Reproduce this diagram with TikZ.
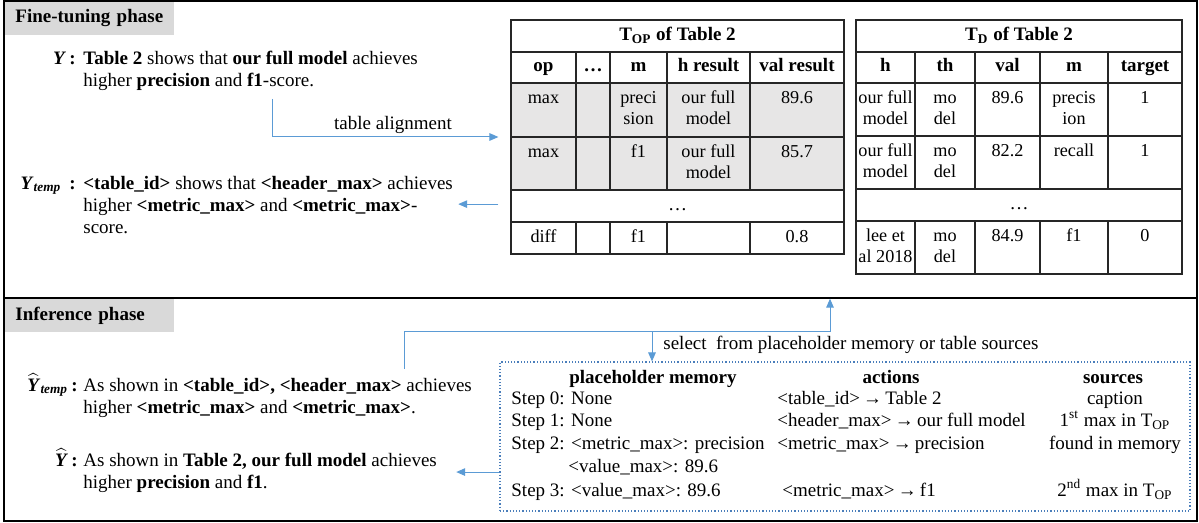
\documentclass[tikz,border=0pt]{standalone}
\usepackage{fontspec}
\setmainfont{Liberation Serif}
\usepackage{amsmath}
\usetikzlibrary{arrows.meta, positioning, fit, calc}

\definecolor{phasegray}{HTML}{D9D9D9}
\definecolor{rowgray}{HTML}{E7E6E6}
\definecolor{linkblue}{HTML}{5B9BD5}
\definecolor{memblue}{HTML}{4A7EBB}

\begin{document}
\begin{tikzpicture}[x=0.5pt, y=-0.5pt,
    every node/.style={font=\fontsize{9.5}{11}\selectfont},
    txt/.style={inner sep=0pt, align=left, anchor=north west},
    lbl/.style={inner sep=0pt, text height=6.5pt, text depth=2pt, anchor=east},
    mem/.style={inner sep=0pt, text height=6.5pt, text depth=2pt},
    cell/.style={inner sep=0pt, align=center, anchor=north, font=\fontsize{9.1}{10.5}\selectfont},
    cellhead/.style={mem, font=\fontsize{9.5}{11}\selectfont\bfseries},
    frame/.style={draw, line width=0.7pt, inner sep=0pt},
    tbl/.style={draw=black!85, line width=0.6pt, inner sep=0pt},
    tblline/.style={draw=black!85, line width=0.6pt},
    phase/.style={fill=phasegray, inner xsep=5.5pt, inner ysep=0pt, minimum height=17pt, text width=74pt, align=left, anchor=north west, font=\fontsize{9.5}{11}\selectfont\bfseries},
    link/.style={draw=linkblue, line width=0.5pt, -{Triangle[length=4.5pt, width=3.8pt]}}]
    \useasboundingbox (0,0) rectangle (1199,523);

    % phase labels and frames
    \node[phase] (ftlab) at (4,1) {Fine-tuning phase};
    \node[phase] (inflab) at (4,298) {Inference phase};
    \node[frame, fit={(4,1) (1197,298)}] (ftbox) {};
    \node[frame, fit={(4,298) (1197,521)}] (infbox) {};

    % fine-tuning sentences
    \node[lbl] (ylab) at (76,60) {\textbf{\textit{Y}}\,\textbf{:}};
    \node[txt] (ytext) at (83,48.9) {\strut\textbf{Table 2} shows that \textbf{our full model} achieves\\higher \textbf{precision} and \textbf{f1}-score.};
    \node[lbl] (ytemplab) at (76,185) {\textbf{\textit{Y}}\textsubscript{\textbf{\textit{temp}}}\hspace{4pt}\textbf{:}};
    \node[txt] (ytemptext) at (83,173.9) {\strut\textbf{<table\_id>} shows that \textbf{<header\_max>} achieves\\higher \textbf{<metric\_max>} and \textbf{<metric\_max>}-\\score.};

    % T_OP table
    \fill[rowgray] (511,83) rectangle (844,190);
    \foreach \y in {52,83,137,190,222} \draw[tblline] (511,\y) -- (844,\y);
    \foreach \x in {576,610,667,750} \draw[tblline] (\x,52) -- (\x,190) (\x,222) -- (\x,254);
    \node[tbl, fit={(511,20) (844,254)}] (topframe) {};
    \node[cellhead] (optitle) at (677.5,36) {T\textsubscript{OP} of Table 2};
    \foreach \x/\t [count=\i] in {543.5/op, 593/\dots, 638.5/m, 708.5/h result, 797/val result}
        \node[cellhead] (oph\i) at (\x,67.5) {\t};
    \foreach \x/\t [count=\i] in {543.5/max, 638.5/preci\\sion, 708.5/our full\\model, 797/89.6}
        \node[cell] (opa\i) at (\x,88.6) {\strut\t};
    \foreach \x/\t [count=\i] in {543.5/max, 638.5/f1, 708.5/our full\\model, 797/85.7}
        \node[cell] (opb\i) at (\x,142.6) {\strut\t};
    \node[mem] (opdots) at (677.5,206) {\dots};
    \foreach \x/\t [count=\i] in {543.5/diff, 638.5/f1, 797/0.8}
        \node[cell] (opc\i) at (\x,227.6) {\strut\t};

    % T_D table
    \foreach \y in {52,83,136,189,221} \draw[tblline] (856,\y) -- (1182,\y);
    \foreach \x in {915,975,1040,1108} \draw[tblline] (\x,52) -- (\x,189) (\x,221) -- (\x,274);
    \node[tbl, fit={(856,20) (1182,274)}] (tdframe) {};
    \node[cellhead] (tdtitle) at (1019,36) {T\textsubscript{D} of Table 2};
    \foreach \x/\t [count=\i] in {885.5/h, 945/th, 1007.5/val, 1074/m, 1145/target}
        \node[cellhead] (tdh\i) at (\x,67.5) {\t};
    \foreach \x/\t [count=\i] in {885.5/our full\\model, 945/mo\\del, 1007.5/89.6, 1074/precis\\ion, 1145/1}
        \node[cell] (tda\i) at (\x,88.6) {\strut\t};
    \foreach \x/\t [count=\i] in {885.5/our full\\model, 945/mo\\del, 1007.5/82.2, 1074/recall, 1145/1}
        \node[cell] (tdb\i) at (\x,141.6) {\strut\t};
    \node[mem] (tddots) at (1019,205) {\dots};
    \foreach \x/\t [count=\i] in {885.5/lee et\\al 2018, 945/mo\\del, 1007.5/84.9, 1074/f1, 1145/0}
        \node[cell] (tdc\i) at (\x,226.6) {\strut\t};

    % fine-tuning arrows
    \coordinate (alignstart) at (272,99);
    \draw[link, shorten >=6pt] (alignstart) |- (topframe.west);
    \node[mem] (alignlab) at (393,125) {table alignment};
    \draw[link, shorten <=6pt] (topframe.west |- ytemptext.east) -- ([xshift=2.5pt]ytemptext.east);

    % inference sentences
    \node[lbl] (yhtemplab) at (78,387) {$\widehat{\text{\textbf{\textit{Y}}}}$\textsubscript{\textbf{\textit{temp}}}\,\textbf{:}};
    \node[txt] (yhtemptext) at (83,375.9) {\strut As shown in \textbf{<table\_id>, <header\_max>} achieves\\higher \textbf{<metric\_max>} and \textbf{<metric\_max>}.};
    \node[lbl] (yhlab) at (78,462) {$\widehat{\text{\textbf{\textit{Y}}}}$\,\textbf{:}};
    \node[txt] (yhtext) at (83,450.9) {\strut As shown in \textbf{Table 2, our full model} achieves\\higher \textbf{precision} and \textbf{f1}.};

    % placeholder memory box
    \node[draw=memblue, densely dotted, line width=0.6pt, inner sep=0pt, fit={(500,362) (1190,511)}] (memory) {};
    \node[cellhead] (memhead) at (653,379) {placeholder memory};
    \node[cellhead] (acthead) at (891,379) {actions};
    \node[cellhead] (srchead) at (1113,379) {sources};
    \foreach \y/\t [count=\i] in {400/Step 0: None, 422/Step 1: None, 445/Step 2: <metric\_max>: precision, 492/Step 3: <value\_max>: 89.6}
        \node[mem, anchor=west] (step\i) at (511,\y) {\t};
    \node[mem, anchor=west] (stepval) at (568,468) {<value\_max>: 89.6};
    \foreach \x/\y/\t [count=\i] in {777/400/<table\_id>\,→\,Table 2, 777/422/<header\_max>\,→\,our full model, 777/445/<metric\_max>\,→\,precision, 782/492/<metric\_max>\,→\,f1}
        \node[mem, anchor=west] (act\i) at (\x,\y) {\t};
    \foreach \y/\t [count=\i] in {400/caption, 422/1\textsuperscript{st} max in T\textsubscript{OP}, 445/found in memory, 492/2\textsuperscript{nd} max in T\textsubscript{OP}}
        \node[mem] (src\i) at (1115,\y) {\t};

    % inference arrows
    \coordinate (selstart) at (404,369);
    \coordinate (upturn) at (830,332);
    \coordinate (branch) at (652,332);
    \draw[link] (selstart) |- (upturn) -- (upturn |- ftbox.south);
    \draw[link] (branch) -- (branch |- memory.north);
    \node[mem, anchor=west] (sellab) at (663,345) {select\ \ from placeholder memory or table sources};
    \draw[link] (memory.west |- yhtext.east) -- ([xshift=9.5pt]yhtext.east);
\end{tikzpicture}
\end{document}
